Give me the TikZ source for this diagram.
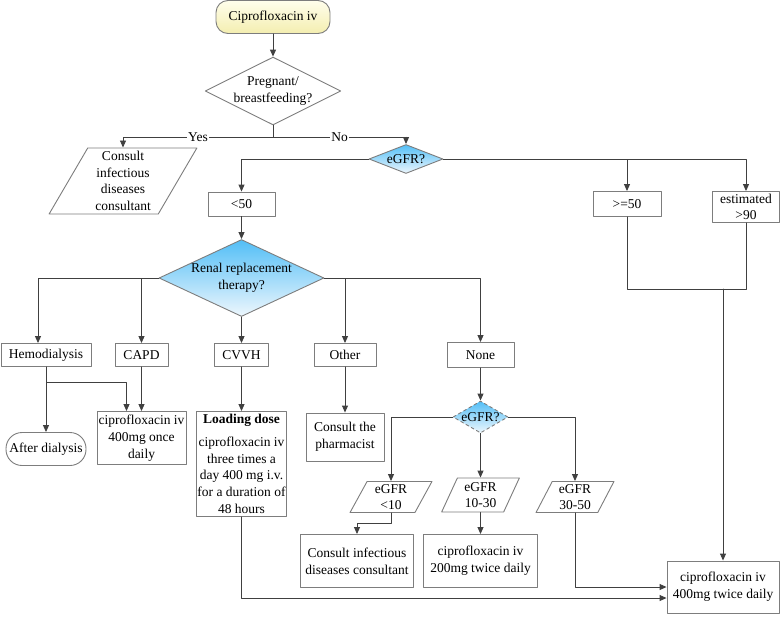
\documentclass[tikz,border=0pt]{standalone}
\usepackage{fontspec}
\setmainfont{LiberationSerif}[Extension=.ttf,UprightFont=*-Regular,BoldFont=*-Bold,ItalicFont=*-Italic,BoldItalicFont=*-BoldItalic]
\usetikzlibrary{arrows.meta,shapes.geometric}
\definecolor{linegray}{RGB}{64,64,64}
\definecolor{boxgray}{RGB}{125,125,125}
\definecolor{skyblue}{RGB}{82,190,246}
\definecolor{paleblue}{RGB}{238,247,253}
\definecolor{paleyellow}{RGB}{255,254,236}
\definecolor{lightyellow}{RGB}{244,238,176}

\begin{document}
\begin{tikzpicture}[line cap=round,line join=round,>={Triangle[length=7pt,width=6pt]},x=1pt,y=-1pt,line width=0.9pt,
    font=\fontsize{13.5}{16.7}\selectfont,
    box/.style={rectangle,draw=boxgray,fill=white,inner sep=0pt,align=center},
    startbox/.style={rectangle,rounded corners=12pt,draw=boxgray,top color=paleyellow,bottom color=lightyellow,inner sep=0pt,align=center},
    endbox/.style={rectangle,rounded corners=16pt,draw=boxgray,fill=white,inner sep=0pt,align=center},
    query/.style={diamond,draw=boxgray,fill=white,inner sep=0pt,align=center},
    bluequery/.style={diamond,draw=boxgray,top color=skyblue,bottom color=paleblue,inner sep=0pt,align=center},
    slanted/.style={trapezium,trapezium stretches=true,draw=boxgray,fill=white,inner sep=0pt,align=center},
    conn/.style={->,draw=linegray},
    line/.style={draw=linegray}]
    \useasboundingbox (0,0) rectangle (784,616);
    % top part
    \node[startbox,minimum width=114,minimum height=33] (start) at (273,17) {Ciprofloxacin iv};
    \node[query,aspect=2,minimum width=130,minimum height=65] (preg) at (273,91) {Pregnant/\\breastfeeding?};
    \node[slanted,trapezium left angle=63,trapezium right angle=117,minimum width=148,minimum height=66] (consultA) at (123,181) {Consult\\infectious\\diseases\\consultant};
    \node[bluequery,aspect=2.55,minimum width=74,minimum height=29] (gfrA) at (406,159) {eGFR?};
    \node[box,minimum width=67,minimum height=24] (lt50) at (241.5,204) {<50};
    \node[box,minimum width=68,minimum height=25] (ge50) at (627,204) {>=50};
    \node[box,minimum width=67,minimum height=31] (est90) at (746,207) {estimated\\>90};
    % renal replacement
    \node[bluequery,aspect=2.14,minimum width=165,minimum height=77] (renal) at (241.5,278) {Renal replacement\\therapy?};
    \node[box,minimum width=90,minimum height=23] (hemo) at (46,355) {Hemodialysis};
    \node[box,minimum width=53,minimum height=23] (capd) at (141.5,355) {CAPD};
    \node[box,minimum width=54,minimum height=23] (cvvh) at (241.5,355) {CVVH};
    \node[box,minimum width=62,minimum height=23] (other) at (345,355) {Other};
    \node[box,minimum width=67,minimum height=25] (none) at (480.5,355) {None};
    \node[endbox,minimum width=80,minimum height=33] (after) at (46,449) {After dialysis};
    \node[box,minimum width=89,minimum height=53] (once) at (141.5,438) {ciprofloxacin iv\\400mg once\\daily};
    \node[box,minimum width=90,minimum height=105] (loading) at (241.5,464) {\textbf{Loading dose}\\[6pt]ciprofloxacin iv\\three times a\\day 400 mg i.v.\\for a duration of\\48 hours};
    \node[box,minimum width=78,minimum height=48] (pharm) at (345,437) {Consult the\\pharmacist};
    % no renal replacement
    \node[bluequery,dashed,aspect=1.7,minimum width=55,minimum height=32] (gfrB) at (480.5,417) {eGFR?};
    \node[slanted,trapezium left angle=66,trapezium right angle=114,minimum width=82,minimum height=31] (lt10) at (391,497) {eGFR\\<10};
    \node[slanted,trapezium left angle=67,trapezium right angle=113,minimum width=78,minimum height=34] (t1030) at (480.5,495) {eGFR\\10-30};
    \node[slanted,trapezium left angle=66,trapezium right angle=114,minimum width=78,minimum height=31] (t3050) at (575,497) {eGFR\\30-50};
    \node[box,minimum width=113,minimum height=53] (consultB) at (357,561) {Consult infectious\\diseases consultant};
    \node[box,minimum width=114,minimum height=53] (twice200) at (480.5,561) {ciprofloxacin iv\\200mg twice daily};
    \node[box,minimum width=112,minimum height=52] (twice400) at (723,587) {ciprofloxacin iv\\400mg twice daily};
    \coordinate (join) at (723,289);
    % connectors
    \draw[conn] (start) -- (preg);
    \draw[conn] (preg.south) -- ++(0,12) coordinate (fork) -| (consultA.north) node[pos=0.25,fill=white,inner sep=1pt] {Yes};
    \draw[conn] (fork) -| (gfrA.north) node[pos=0.25,fill=white,inner sep=1pt] {No};
    \draw[conn] (gfrA.west) -| (lt50.north);
    \draw[conn] (gfrA.east) -| (ge50.north);
    \draw[conn] (gfrA.east) -| (est90.north);
    \draw[line] (ge50.south) |- (est90.south |- join) -- (est90.south);
    \draw[conn] (join) -- (twice400.north);
    \draw[conn] (lt50) -- (renal);
    \draw[conn] (renal.west) -| ([xshift=-8pt]hemo.north);
    \draw[conn] (renal.west) -| (capd.north);
    \draw[conn] (renal) -- (cvvh);
    \draw[conn] (renal.east) -| (other.north);
    \draw[conn] (renal.east) -| (none.north);
    \draw[conn] (hemo.south) -- ++(0,15) coordinate (hd) -| ([xshift=-15pt]once.north);
    \draw[conn] (hd) -- (after.north);
    \draw[conn] (capd) -- (once);
    \draw[conn] (cvvh) -- (loading);
    \draw[conn] (other) -- (pharm);
    \draw[conn] (none) -- (gfrB);
    \draw[conn] (gfrB.west) -| (lt10.north);
    \draw[conn] (gfrB) -- (t1030);
    \draw[conn] (gfrB.east) -| (t3050.north);
    \draw[conn] (lt10.south) -- ++(0,10) -| (consultB.north);
    \draw[conn] (t1030) -- (twice200);
    \draw[conn] (t3050.south) |- (twice400.west);
    \draw[conn] (loading.south) |- ([yshift=-11pt]twice400.west);
\end{tikzpicture}
\end{document}
